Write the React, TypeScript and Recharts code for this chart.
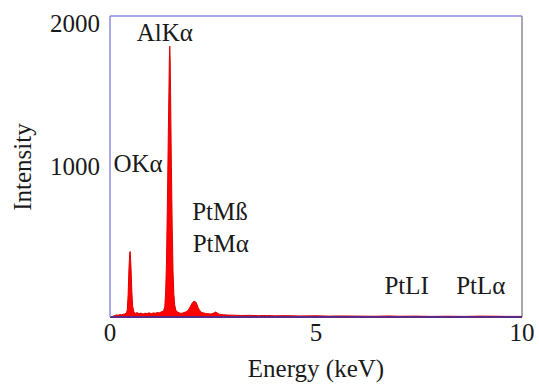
import { AreaChart, Area, XAxis, YAxis, ReferenceLine, ReferenceDot } from "recharts";

// energy (keV) and counts
const energy = [
  0.0, 0.04, 0.08, 0.12, 0.16, 0.2, 0.24, 0.28, 0.32, 0.36, 0.4, 0.42, 0.44, 0.46, 0.48, 0.49, 0.51, 0.53, 0.55,
  0.58, 0.62, 0.66, 0.7, 0.75, 0.8, 0.85, 0.9, 0.95, 1.0, 1.05, 1.1, 1.15, 1.2, 1.25, 1.3, 1.33, 1.35, 1.37,
  1.39, 1.41, 1.43, 1.44, 1.45, 1.46, 1.47, 1.49, 1.51, 1.53, 1.55, 1.57, 1.6, 1.64, 1.68, 1.72, 1.76, 1.8,
  1.85, 1.9, 1.95, 2.0, 2.04, 2.08, 2.11, 2.14, 2.18, 2.22, 2.27, 2.32, 2.38, 2.45, 2.5, 2.54, 2.57, 2.6, 2.66,
  2.75, 2.85, 3.0, 3.2, 3.4, 3.6, 3.8, 4.0, 4.3, 4.6, 5.0, 5.3, 5.6, 6.0, 6.4, 6.8, 7.0, 7.4, 7.8, 8.2, 8.6, 9.0,
  9.4, 9.6, 10.0,
];
const counts = [
  0, 2, 6, 10, 14, 12, 16, 15, 18, 20, 28, 50, 150, 320, 430, 435, 330, 170, 70,
  35, 24, 30, 22, 26, 20, 25, 23, 28, 22, 27, 25, 30, 28, 35, 40, 70, 160, 350,
  700, 1100, 1500, 1700, 1800, 1720, 1500, 1000, 600, 300, 150, 80, 45, 32, 28, 24, 26, 30,
  35, 45, 70, 95, 105, 100, 85, 62, 42, 32, 27, 24, 22, 20, 24, 30, 34, 26, 18,
  15, 13, 12, 10, 11, 9, 10, 8, 9, 7, 8, 6, 7, 6, 5, 7, 5, 6, 4, 5, 4, 6,
  5, 4, 4,
];

const xTicks = [0, 5, 10];
const yTicks = [1000, 2000];

// peak annotations: [text, energy, intensity]
const peakLabels: [string, number, number][] = [
  ["AlKα", 1.33, 1890],
  ["OKα", 0.68, 1020],
  ["PtMß", 2.67, 700],
  ["PtMα", 2.69, 493],
  ["PtLI", 7.2, 213],
  ["PtLα", 9.0, 213],
];

const data = energy.map((e, i) => ({ e, c: counts[i] }));

const FONT = '"Liberation Serif", "Times New Roman", serif';

// force the serif face, something keeps swapping it for a sans one
const forceSerif = (el: SVGTextElement | null) => {
  if (el) el.style.setProperty("font-family", FONT, "important");
};

function SerifText({ x, y, anchor = "middle", dy = "0.35em", rotate, children }: any) {
  return (
    <text
      ref={forceSerif}
      x={x}
      y={y}
      dy={dy}
      textAnchor={anchor}
      fontFamily={FONT}
      fontSize={25}
      fill="#1a1a1a"
      transform={rotate ? `rotate(${rotate} ${x} ${y})` : undefined}
    >
      {children}
    </text>
  );
}

const XTick = ({ x, y, payload }: any) => (
  <SerifText x={x} y={y - 4} dy="0.8em">
    {payload.value}
  </SerifText>
);

const YTick = ({ x, y, payload }: any) => (
  <SerifText x={x - 2} y={payload.value === 2000 ? y + 7 : y} anchor="end">
    {payload.value}
  </SerifText>
);

const peakLabel = (t: string) => (p: any) => {
  const vb = p.viewBox || {};
  return (
    <SerifText x={vb.x + (vb.width || 0) / 2} y={vb.y + (vb.height || 0) / 2}>
      {t}
    </SerifText>
  );
};

const xLabel = (p: any) => {
  const vb = p.viewBox;
  return (
    <SerifText x={vb.x + vb.width / 2} y={368}>
      Energy (keV)
    </SerifText>
  );
};

const yLabel = () => (
  <SerifText x={22} y={167} rotate={-90}>
    Intensity
  </SerifText>
);

export default function App() {
  return (
    <div style={{ position: "absolute", left: 0, top: 0, background: "#fff", fontFamily: FONT }}>
      <AreaChart
        width={539}
        height={385}
        data={data}
        margin={{ top: 16, right: 17, bottom: 0, left: 0 }}
        style={{ fontFamily: FONT }}
      >
        <XAxis
          dataKey="e"
          type="number"
          domain={[0, 10]}
          ticks={xTicks}
          tickLine={false}
          axisLine={{ stroke: "#5b2a86", strokeWidth: 2 }}
          tick={<XTick />}
          height={68}
          label={xLabel}
        />
        <YAxis
          type="number"
          domain={[0, 2000]}
          ticks={yTicks}
          tickLine={false}
          axisLine={{ stroke: "#8c8ce0", strokeWidth: 1.5 }}
          tick={<YTick />}
          width={110}
          label={yLabel}
        />
        <ReferenceLine y={2000} stroke="#8c8ce0" strokeWidth={1.5} />
        <ReferenceLine x={10} stroke="#8a8a9a" strokeWidth={1.5} />
        <Area
          type="linear"
          dataKey="c"
          stroke="#e00000"
          strokeWidth={1}
          fill="#ff0000"
          fillOpacity={1}
          isAnimationActive={false}
        />
        {peakLabels.map(([t, x, y]) => (
          <ReferenceDot key={t} x={x} y={y} r={0} fill="none" stroke="none" label={peakLabel(t)} />
        ))}
      </AreaChart>
    </div>
  );
}
